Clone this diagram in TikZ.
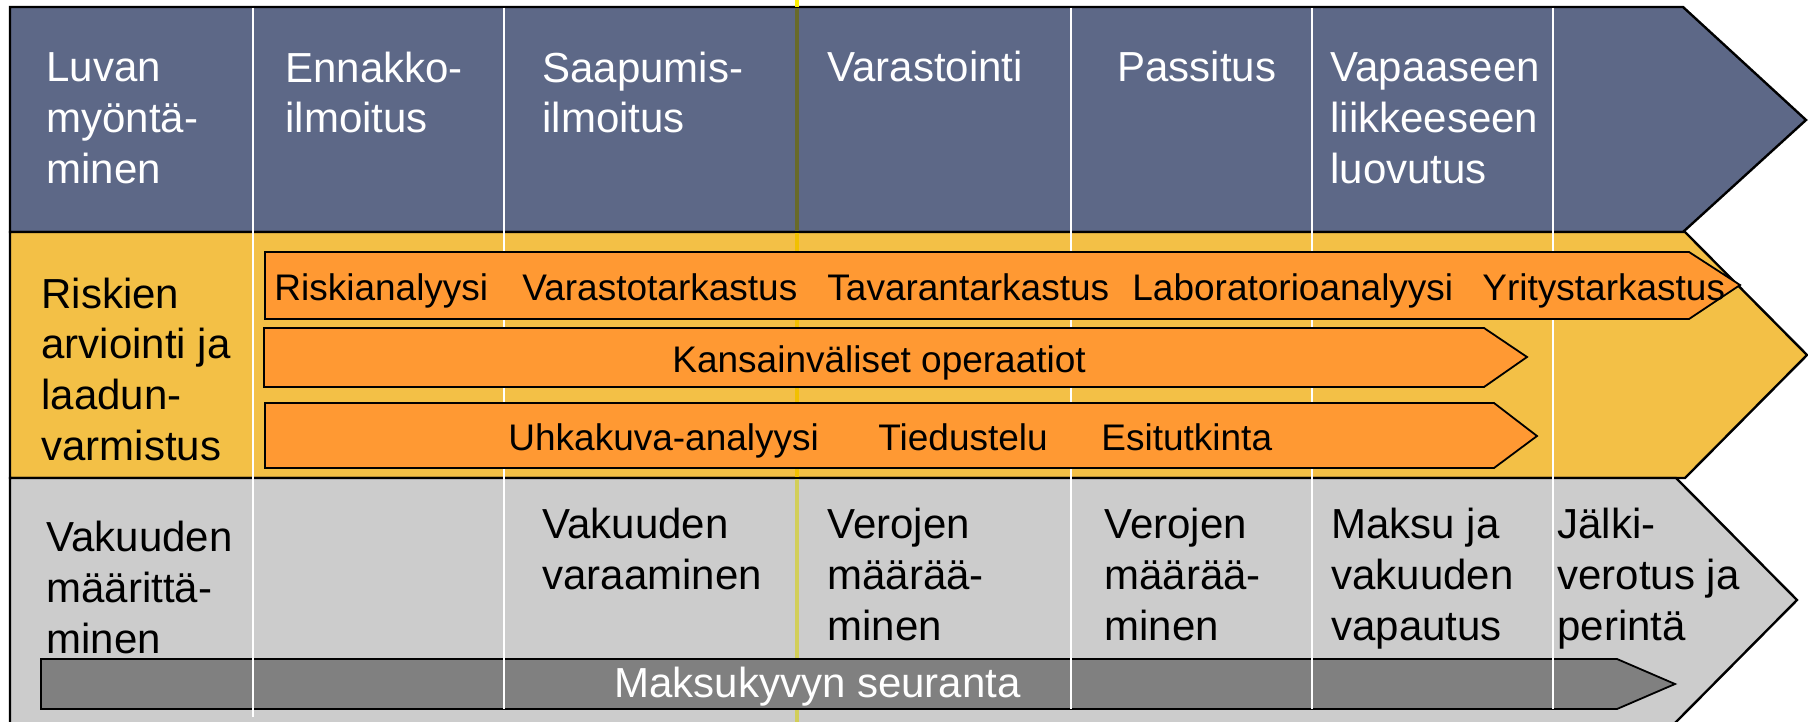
\documentclass[tikz,border=0pt]{standalone}
\usepackage{fontspec}
\setmainfont{Liberation Sans}

\definecolor{phaseblue}{HTML}{5D6887}
\definecolor{riskyellow}{HTML}{F3C046}
\definecolor{taxgray}{HTML}{CCCCCC}
\definecolor{barorange}{HTML}{FF9933}
\definecolor{bargray}{HTML}{808080}

\begin{document}
\begin{tikzpicture}[x=0.5pt, y=-0.5pt,
    band/.style={draw=black, line width=1.2pt},
    bar/.style={draw=black, line width=0.9pt},
    sep/.style={white, line width=1pt},
    txt/.style={anchor=base west, inner sep=0pt, align=left, font=\fontsize{21}{25.3}\selectfont},
    bartxt/.style={anchor=base west, inner sep=0pt, font=\fontsize{18.5}{22}\selectfont}]
    \useasboundingbox (0, 0) rectangle (1808, 722);

    \draw[band, fill=phaseblue] (10, 7) -- (1683, 7) -- (1806, 120) -- (1683, 232) -- (10, 232) -- cycle;
    \draw[band, fill=riskyellow] (10, 232) -- (1685, 232) -- (1807, 355) -- (1685, 478) -- (10, 478) -- cycle;
    \draw[band, fill=taxgray] (10, 478) -- (1676, 478) -- (1797, 600) -- (1672, 726) -- (10, 726) -- cycle;

    \draw[line width=2.2pt, yellow] (797, 0) -- (797, 7);
    \draw[line width=2.2pt, color={rgb,255:red,104;green,106;blue,42}] (797, 8) -- (797, 231);
    \draw[line width=2.2pt, color={rgb,255:red,242;green,192;blue,0}] (797, 233) -- (797, 477);
    \draw[line width=2.2pt, color={rgb,255:red,210;green,206;blue,88}] (797, 479) -- (797, 722);

    \draw[bar, fill=bargray] (41, 659) -- (1617, 659) -- (1675, 684) -- (1617, 709) -- (41, 709) -- cycle;

    \draw[sep] (253, 8) -- (253, 717);
    \draw[sep] (504, 8) -- (504, 709);
    \draw[sep] (1071, 8) -- (1071, 709);
    \draw[sep] (1312, 8) -- (1312, 709);
    \draw[sep] (1553, 8) -- (1553, 709);

    \draw[bar, fill=barorange] (265, 252) -- (1689, 252) -- (1740, 285) -- (1689, 319) -- (265, 319) -- cycle;
    \draw[bar, fill=barorange] (264, 328) -- (1484, 328) -- (1527, 357) -- (1484, 387) -- (264, 387) -- cycle;
    \draw[bar, fill=barorange] (265, 403) -- (1494, 403) -- (1537, 436) -- (1494, 468) -- (265, 468) -- cycle;

    % multi-line texts sit on the baseline of their last line
    \node[txt, white] (luvan) at (46, 183) {Luvan\\myöntä-\\minen};
    \node[txt, white] (ennakko) at (285, 133) {Ennakko-\\ilmoitus};
    \node[txt, white] (saapumis) at (542, 133) {Saapumis-\\ilmoitus};
    \node[txt, white] (varastointi) at (827, 82) {Varastointi};
    \node[txt, white] (passitus) at (1117, 82) {Passitus};
    \node[txt, white] (vapaaseen) at (1330, 183) {Vapaaseen\\liikkeeseen\\luovutus};

    \node[txt] (riskien) at (41, 460) {Riskien\\arviointi ja\\laadun-\\varmistus};

    \node[bartxt] (riskianalyysi) at (274, 300) {Riskianalyysi};
    \node[bartxt] (varastotark) at (522, 300) {Varastotarkastus};
    \node[bartxt] (tavaratark) at (827, 300) {Tavarantarkastus};
    \node[bartxt] (laboratorio) at (1132, 300) {Laboratorioanalyysi};
    \node[bartxt] (yritystark) at (1482, 300) {Yritystarkastus};
    \node[bartxt] (kansainvaliset) at (672, 372) {Kansainväliset operaatiot};
    \node[bartxt] (uhkakuva) at (508, 450) {Uhkakuva-analyysi};
    \node[bartxt] (tiedustelu) at (878, 450) {Tiedustelu};
    \node[bartxt] (esitutkinta) at (1101, 450) {Esitutkinta};

    \node[txt] (maarittaminen) at (46, 653) {Vakuuden\\määrittä-\\minen};
    \node[txt] (varaaminen) at (542, 589) {Vakuuden\\varaaminen};
    \node[txt] (verojen) at (827, 640) {Verojen\\määrää-\\minen};
    \node[txt] (passverojen) at (1104, 640) {Verojen\\määrää-\\minen};
    \node[txt] (maksu) at (1331, 640) {Maksu ja\\vakuuden\\vapautus};
    \node[txt] (jalki) at (1557, 640) {Jälki-\\verotus ja\\perintä};

    \node[txt, white] (maksukyky) at (614, 697) {Maksukyvyn seuranta};
\end{tikzpicture}
\end{document}
